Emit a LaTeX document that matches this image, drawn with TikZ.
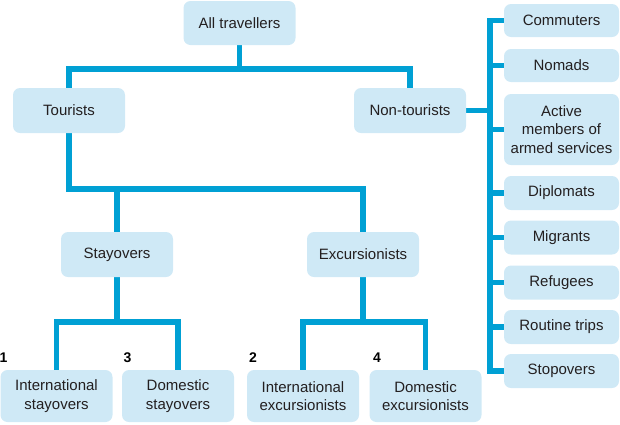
\documentclass[tikz,border=0pt]{standalone}
\usepackage{fontspec}
\setmainfont{Liberation Sans}
\usetikzlibrary{backgrounds}
\definecolor{boxfill}{RGB}{207,233,246}
\definecolor{linec}{RGB}{0,160,212}
\definecolor{txt}{RGB}{35,31,32}
\begin{document}
\begin{tikzpicture}[x=1pt,y=-1pt,
 box/.style={fill=boxfill, rounded corners=7pt, inner sep=0pt, align=center, text=txt,
   font=\fontsize{15}{18.3}\selectfont, minimum height=45pt},
 wbox/.style={box, minimum width=112pt},
 rbox/.style={box, minimum width=115pt, minimum height=34pt},
 conn/.style={draw=linec, line width=5.5pt},
 num/.style={font=\fontsize{14}{16}\selectfont\bfseries, inner sep=0pt, text=black}]
\useasboundingbox (0,0) rectangle (620,424);
% main tree
\node[wbox, minimum height=44pt] (all) at (239.5,23) {All travellers};
\node[wbox] (tour) at (69,110.5) {Tourists};
\node[wbox] (nont) at (410,110.5) {Non-tourists};
\node[wbox] (stay) at (117,254.5) {Stayovers};
\node[wbox] (exc) at (363,254.5) {Excursionists};
\node[wbox, minimum height=52pt] (is) at (56.5,396) {International\\stayovers};
\node[wbox, minimum height=52pt] (ds) at (178,396) {Domestic\\stayovers};
\node[wbox, minimum height=52pt] (ie) at (303,396) {International\\excursionists};
\node[wbox, minimum height=52pt] (de) at (425.5,396) {Domestic\\excursionists};
% right column
\node[rbox, minimum height=33pt] (com) at (561.5,20.5) {Commuters};
\node[rbox, minimum height=33pt] (nom) at (561.5,65.5) {Nomads};
\node[rbox, minimum height=71pt] (act) at (561.5,129.5) {Active\\members of\\armed services};
\node[rbox] (dip) at (561.5,193) {Diplomats};
\node[rbox] (mig) at (561.5,237.5) {Migrants};
\node[rbox] (ref) at (561.5,282.5) {Refugees};
\node[rbox] (rou) at (561.5,327) {Routine trips};
\node[rbox] (sto) at (561.5,371) {Stopovers};
% numbers
\node[num] (n1) at (3.5,358) {1};
\node[num] (n3) at (127.5,358) {3};
\node[num] (n2) at (253,358) {2};
\node[num] (n4) at (377,358) {4};
% junction coordinates
\coordinate (j1) at (240,69);
\coordinate (j2) at (117,189);
\coordinate (j3) at (117,322);
\coordinate (vx) at (490,110.5);
\begin{scope}[on background layer]
\draw[conn] (all.south) -- (all.south |- j1);
\draw[conn] (tour.north) -- (tour.north |- j1) -- (nont.north |- j1) -- (nont.north);
\draw[conn] (tour.south) -- (tour.south |- j2) -- (exc.north |- j2) -- (exc.north);
\draw[conn] (stay.north) -- (stay.north |- j2);
\draw[conn] (stay.south) -- (stay.south |- j3);
\draw[conn] (is.north) -- (is.north |- j3) -- (ds.north |- j3) -- (ds.north);
\draw[conn] (exc.south) -- (exc.south |- j3);
\draw[conn] (ie.north) -- (ie.north |- j3) -- (de.north |- j3) -- (de.north);
\draw[conn] (nont.east) -- (vx);
\draw[conn] (com.west) -- (com.west -| vx) -- (sto.west -| vx) -- (sto.west);
\foreach \n in {nom,act,dip,mig,ref,rou}
  \draw[conn] (\n.west) -- (\n.west -| vx);
\end{scope}
\end{tikzpicture}
\end{document}
